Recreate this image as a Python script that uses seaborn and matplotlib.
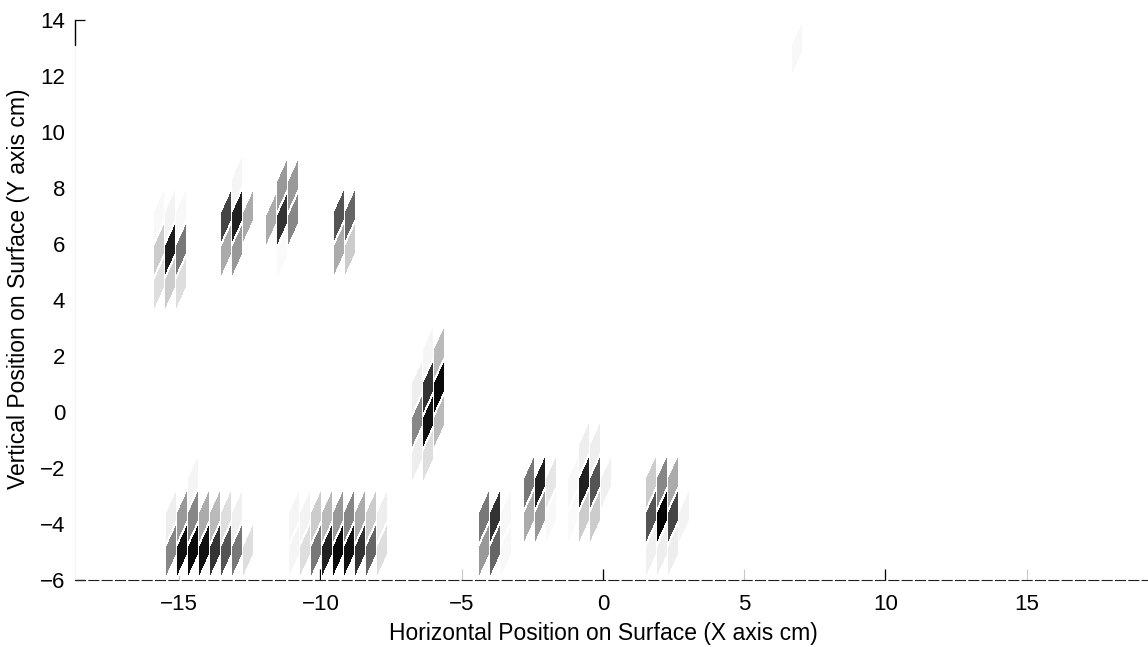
import numpy as np
import matplotlib
matplotlib.use("Agg")
import matplotlib.pyplot as plt
import seaborn as sns

# -------------------------
# Data: blobs of cells (darkness 0..1), rows bottom -> top, columns left -> right
# -------------------------
blob_x0 = [-15.93, -13.56, -11.96, -9.56, -6.80, -4.42, -2.84, -1.27, 1.49, -15.50, -11.14, 6.65]
blob_y0 = [3.57, 4.75, 4.64, 4.79, -2.57, -5.96, -4.75, -4.75, -5.96, -5.96, -5.96, 11.96]

blob_a = [[0.13, 0.20, 0.13],
          [0.20, 0.89, 0.53],
          [0.03, 0.05, 0.03]]
blob_b = [[0.33, 0.40, 0.00],
          [0.73, 0.87, 0.33],
          [0.00, 0.04, 0.00]]
blob_c = [[0.00, 0.02, 0.00],
          [0.33, 0.80, 0.47],
          [0.00, 0.40, 0.40]]
blob_d = [[0.33, 0.20],
          [0.67, 0.60]]
blob_e = [[0.07, 0.13, 0.00],
          [0.47, 0.93, 0.27],
          [0.07, 0.80, 0.96],
          [0.00, 0.04, 0.27]]
blob_f = [[0.40, 0.60, 0.03],
          [0.53, 0.80, 0.03]]
blob_g = [[0.33, 0.40, 0.03],
          [0.53, 0.87, 0.10]]
blob_h = [[0.02, 0.20, 0.20, 0.00],
          [0.03, 0.87, 0.67, 0.06],
          [0.00, 0.07, 0.07, 0.00]]
blob_i = [[0.06, 0.07, 0.07, 0.00],
          [0.67, 0.98, 0.73, 0.05],
          [0.20, 0.47, 0.33, 0.00]]
blob_j = [[0.47, 0.93, 0.96, 0.93, 0.80, 0.67, 0.53, 0.13],
          [0.07, 0.40, 0.47, 0.33, 0.27, 0.13, 0.06, 0.00],
          [0.00, 0.00, 0.04, 0.00, 0.00, 0.00, 0.00, 0.00]]
blob_k = [[0.04, 0.13, 0.53, 0.87, 0.96, 0.93, 0.80, 0.60, 0.13],
          [0.04, 0.05, 0.20, 0.27, 0.40, 0.47, 0.33, 0.20, 0.07]]
blob_l = [[0.03]]
blobs = [blob_a, blob_b, blob_c, blob_d, blob_e, blob_f, blob_g, blob_h,
         blob_i, blob_j, blob_k, blob_l]

x_ticks = [-15, -10, -5, 0, 5, 10, 15]
x_ticks_dark = [-10, 0, 10]
y_ticks = [-6, -4, -2, 0, 2, 4, 6, 8, 10, 12, 14]
y_ticks_marked = [-6, 14]

# cell geometry (cm): column width, row height, skew of top/bottom edges
cell_w, cell_h, skew = 0.39, 1.22, 0.85

# -------------------------
# Plot
# -------------------------
sns.set_theme(style="white")
plt.rcParams["font.family"] = ["Liberation Sans", "DejaVu Sans"]
plt.rcParams["text.color"] = "black"
plt.rcParams["axes.labelcolor"] = "black"
plt.rcParams["xtick.color"] = "black"
plt.rcParams["ytick.color"] = "black"

cmap = sns.blend_palette(["#ffffff", "#000000"], as_cmap=True)

fig = plt.figure(figsize=(11.48, 6.47), dpi=100)
ax = fig.add_axes([75 / 1148, 67 / 647, 1 - 75 / 1148, 560 / 647])

for x0, y0, vals in zip(blob_x0, blob_y0, blobs):
    vals = np.ma.masked_equal(np.array(vals), 0.0)
    n_rows, n_cols = vals.shape
    rows = y0 + cell_h * np.arange(n_rows + 1)
    for c in range(n_cols):
        xl = x0 + c * cell_w
        X = np.tile([xl, xl + cell_w], (n_rows + 1, 1))
        Y = np.column_stack([rows, rows + skew])
        ax.pcolormesh(X, Y, vals[:, c:c + 1], cmap=cmap, vmin=0, vmax=1,
                      edgecolors="white", linewidth=0.6)

ax.set_xlim(-18.69, 19.3)
ax.set_ylim(-6, 14)
ax.xaxis.remove_overlapping_locs = False
ax.yaxis.remove_overlapping_locs = False
ax.set_xticks(x_ticks)
ax.set_xticks(x_ticks_dark, minor=True)
ax.set_yticks(y_ticks)
ax.set_yticks(y_ticks_marked, minor=True)

# light marks on every x tick, dark marks on some; y marks only at the ends
ax.tick_params(axis="x", which="major", bottom=True, direction="in", length=8,
               width=0.8, color="#c8c8c8", pad=10, labelsize=16)
ax.tick_params(axis="x", which="minor", bottom=True, direction="in", length=8,
               width=0.9, color="black", labelbottom=False)
ax.tick_params(axis="y", which="major", left=True, direction="in", length=0,
               pad=7, labelsize=16)
ax.tick_params(axis="y", which="minor", left=True, direction="in", length=7,
               width=0.9, color="black", labelleft=False)

for side in ("top", "right"):
    ax.spines[side].set_visible(False)
ax.spines["left"].set_color("#f2f2f2")
ax.spines["left"].set_linewidth(0.8)
ax.spines["bottom"].set_color("#222222")
ax.spines["bottom"].set_linewidth(0.8)
ax.spines["bottom"].set_linestyle((0, (9, 3)))
ax.axvline(-18.69, ymin=0.955, ymax=1.0, color="black", lw=1.0,
           clip_on=False, zorder=4)

ax.set_xlabel("Horizontal Position on Surface (X axis cm)", fontsize=16.5)
ax.set_ylabel("Vertical Position on Surface (Y axis cm)", fontsize=16.5)
ax.xaxis.set_label_coords((0 + 18.69) / (19.3 + 18.69), -0.075)
ax.yaxis.set_label_coords(-0.042, 0.52)

fig.savefig("out.png", dpi=100)
